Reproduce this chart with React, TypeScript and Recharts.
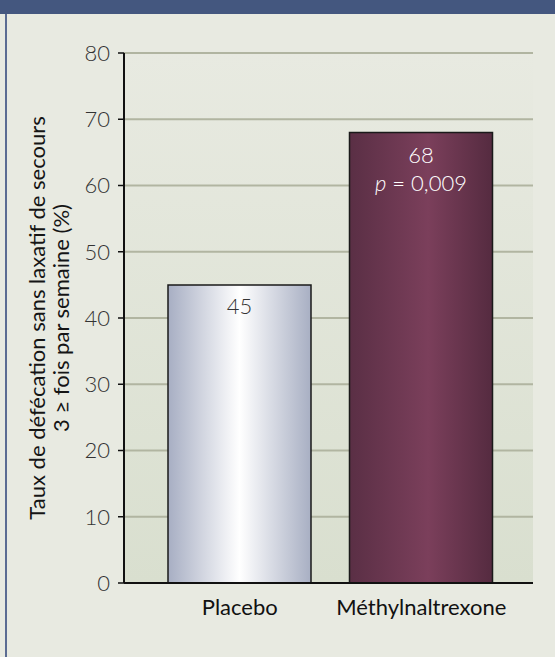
import { BarChart, Bar, XAxis, YAxis, CartesianGrid, Cell, LabelList, Label } from 'recharts';

const categories = ['Placebo', 'Méthylnaltrexone'];
const rates = [45, 68];
const pValues = ['', '0,009'];
const yTicks = [0, 10, 20, 30, 40, 50, 60, 70, 80];
const titleLines = ['Taux de défécation sans laxatif de secours', '3 ≥ fois par semaine (%)'];

const data = categories.map((name, i) => ({ name, rate: rates[i], p: pValues[i] }));

const FONT = 'Lato, "Open Sans", sans-serif';

const YTitle = (props: any) => {
    const vb = props.viewBox || { x: 0, y: 53, width: 124, height: 530 };
    const cy = vb.y + vb.height / 2;
    return (
        <g>
            {titleLines.map((line, i) => {
                const x = 45 + i * 24;
                return (
                    <text
                        key={i}
                        x={x}
                        y={cy}
                        transform={`rotate(-90, ${x}, ${cy})`}
                        textAnchor="middle"
                        fontSize={22}
                        fontFamily={FONT}
                        fill="#151515"
                    >
                        {line}
                    </text>
                );
            })}
        </g>
    );
};

const BarValue = (props: any) => {
    const { x, y, width, index } = props;
    const cx = x + width / 2;
    const d = data[index];
    if (!d.p) {
        return (
            <text x={cx} y={y + 29} textAnchor="middle" fontSize={22} fontFamily={FONT} fontWeight={300} fill="#333">
                {d.rate}
            </text>
        );
    }
    return (
        <g fontFamily={FONT} fontWeight={300} fill="#fff" fontSize={22}>
            <text x={cx} y={y + 30} textAnchor="middle">{d.rate}</text>
            <text x={cx} y={y + 58} textAnchor="middle">
                <tspan fontStyle="italic">p</tspan> = {d.p}
            </text>
        </g>
    );
};

const App = () => {
    return (
        <div style={{ position: 'fixed', top: 0, left: 0, width: 555, height: 657, background: '#e8eae1', overflow: 'hidden' }}>
            <div style={{ position: 'absolute', top: 0, left: 0, width: 555, height: 14, background: '#44577f' }} />
            <div style={{ position: 'absolute', top: 14, left: 5, width: 2, bottom: 0, background: '#5b6c92' }} />
            <BarChart
                width={555}
                height={657}
                data={data}
                margin={{ top: 53, right: 22, bottom: 44, left: 0 }}
                style={{ position: 'absolute', top: 0, left: 0 }}
            >
                <defs>
                    <linearGradient id="plotBg" x1="0" y1="0" x2="0" y2="1">
                        <stop offset="0%" stopColor="#e8eae1" />
                        <stop offset="100%" stopColor="#d9dfcf" />
                    </linearGradient>
                    <linearGradient id="placeboGrad" x1="0" y1="0" x2="1" y2="0">
                        <stop offset="0%" stopColor="#a7aec3" />
                        <stop offset="50%" stopColor="#ffffff" />
                        <stop offset="100%" stopColor="#a8afc3" />
                    </linearGradient>
                    <linearGradient id="mnGrad" x1="0" y1="0" x2="1" y2="0">
                        <stop offset="0%" stopColor="#5a2f45" />
                        <stop offset="55%" stopColor="#7b3f5b" />
                        <stop offset="100%" stopColor="#552b40" />
                    </linearGradient>
                </defs>
                <CartesianGrid vertical={false} stroke="#b1b5a1" strokeWidth={2} fill="url(#plotBg)" />
                <XAxis
                    dataKey="name"
                    height={30}
                    padding={{ left: 25, right: 21 }}
                    axisLine={{ stroke: '#111', strokeWidth: 2 }}
                    tickLine={false}
                    tickMargin={10}
                    tick={{ fill: '#111', fontSize: 22, fontFamily: FONT }}
                />
                <YAxis
                    width={124}
                    domain={[0, 80]}
                    ticks={yTicks}
                    interval={0}
                    axisLine={{ stroke: '#111', strokeWidth: 2 }}
                    tickLine={{ stroke: '#111', strokeWidth: 1.5 }}
                    tickSize={6}
                    tickMargin={8}
                    tick={{ fill: '#333', fontSize: 22, fontFamily: FONT, fontWeight: 300 }}
                >
                    <Label content={<YTitle />} />
                </YAxis>
                <Bar dataKey="rate" barSize={143} stroke="#1a1a1a" strokeWidth={1.5} isAnimationActive={false}>
                    <Cell fill="url(#placeboGrad)" />
                    <Cell fill="url(#mnGrad)" />
                    <LabelList dataKey="rate" content={<BarValue />} />
                </Bar>
            </BarChart>
        </div>
    );
};

export default App;
